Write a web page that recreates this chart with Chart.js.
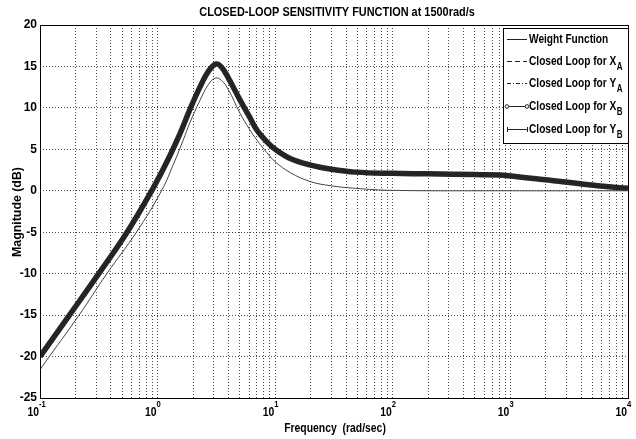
<!DOCTYPE html>
<html>
<head>
<meta charset="utf-8">
<script src="https://cdn.jsdelivr.net/npm/chart.js@4"></script>
<style>
    html, body { margin: 0; padding: 0; background: #fff; }
    #wrap { width: 636px; height: 439px; }
</style>
</head>
<body>
<div id="wrap"><canvas id="chart" width="636" height="439"></canvas></div>
<script>
// Closed-loop sensitivity data
const loopFreq = [0.1, 0.178, 0.316, 0.55, 0.89, 1.2, 1.55, 1.88, 2.29, 2.7, 3.15, 3.5, 4.0, 5.0, 6.0, 7.0, 8.5, 10, 13.4, 20, 30, 48, 100, 200, 500, 800, 1500, 2800, 5500, 10000];
const loopXA = [-20, -15, -10, -5, 0, 3.5, 6.9, 9.8, 12.5, 14.4, 15.3, 14.9, 13.6, 11.0, 9.0, 7.3, 5.9, 5.0, 3.9, 3.1, 2.6, 2.25, 2.1, 2.05, 1.95, 1.9, 1.5, 1.1, 0.6, 0.3];
const loopYA = loopXA.slice();
const loopXB = loopXA.slice();
const loopYB = loopXA.slice();

const weightFreq = [0.1, 0.12, 0.215, 0.37, 0.66, 1.08, 1.4, 1.65, 1.88, 2.29, 2.7, 3.1, 3.5, 4.0, 5.0, 6.0, 7.0, 8.5, 10, 13.4, 20, 30, 48, 100, 1000, 10000];
const weightMag = [-21.6, -20, -15, -10, -5, 0, 3.6, 6.1, 8.2, 10.9, 12.8, 13.6, 13.3, 12.2, 9.4, 7.5, 6.1, 4.6, 3.5, 2.2, 1.1, 0.6, 0.3, 0.05, 0, 0];

const decades = [0.1, 1, 10, 100, 1000, 10000];
const decadeExp = ['-1', '0', '1', '2', '3', '4'];
const yTicks = [20, 15, 10, 5, 0, -5, -10, -15, -20, -25];

const legendNames = [
    ['Weight Function', ''],
    ['Closed Loop for X', 'A'],
    ['Closed Loop for Y', 'A'],
    ['Closed Loop for X', 'B'],
    ['Closed Loop for Y', 'B']
];

const FONT = '"Liberation Sans", Arial, sans-serif';

function pts(xs, ys) {
    return xs.map((x, i) => ({ x: x, y: ys[i] }));
}

// condensed bold text (the original uses a narrow face)
function narrow(ctx, text, x, y, size, sx, align) {
    ctx.save();
    ctx.font = 'bold ' + size + 'px ' + FONT;
    ctx.translate(x, y);
    ctx.scale(sx, 1);
    ctx.textAlign = align;
    ctx.fillText(text, 0, 0);
    const w = ctx.measureText(text).width * sx;
    ctx.restore();
    return w;
}

// draws title, axis labels, tick labels, frame and legend
const decorations = {
    id: 'decorations',
    afterDraw(chart) {
        const ctx = chart.ctx;
        const area = chart.chartArea;
        const xs = chart.scales.x;
        ctx.save();

        // frame
        ctx.strokeStyle = '#000';
        ctx.lineWidth = 1;
        ctx.setLineDash([]);
        ctx.strokeRect(area.left + 0.5, area.top + 0.5, area.right - area.left, area.bottom - area.top);

        ctx.fillStyle = '#000';
        ctx.textBaseline = 'middle';

        // title
        narrow(ctx, 'CLOSED-LOOP SENSITIVITY FUNCTION at 1500rad/s', 337, 12, 13, 0.84, 'center');

        // x axis title
        narrow(ctx, 'Frequency  (rad/sec)', 335, 428, 13, 0.8, 'center');

        // y axis title
        ctx.save();
        ctx.translate(17, 212);
        ctx.rotate(-Math.PI / 2);
        narrow(ctx, 'Magnitude (dB)', 0, 0, 13, 0.95, 'center');
        ctx.restore();

        // x tick labels: 10^n
        decades.forEach((d, i) => {
            const px = xs.getPixelForValue(d);
            narrow(ctx, '10', px - 1, 412, 13, 0.8, 'right');
            narrow(ctx, decadeExp[i], px - 1, 405, 9, 0.85, 'left');
        });

        // legend box
        const lx = 503, ly = 28, lw = area.right - lx, lh = 115;
        ctx.fillStyle = '#fff';
        ctx.fillRect(lx, ly, lw, lh);
        ctx.strokeStyle = '#000';
        ctx.strokeRect(lx + 0.5, ly + 0.5, lw, lh);

        const rows = [39, 61, 83, 106, 129];
        const dashes = [[], [5, 3], [4, 2, 1, 2], [], []];
        rows.forEach((ry, i) => {
            ctx.strokeStyle = '#222';
            ctx.lineWidth = 1;
            ctx.setLineDash(dashes[i]);
            ctx.beginPath();
            ctx.moveTo(507, ry + 0.5);
            ctx.lineTo(527, ry + 0.5);
            ctx.stroke();
            ctx.setLineDash([]);
            if (i === 3) {
                [507, 527].forEach(mx => {
                    ctx.beginPath();
                    ctx.arc(mx, ry + 0.5, 1.8, 0, Math.PI * 2);
                    ctx.fillStyle = '#fff';
                    ctx.fill();
                    ctx.stroke();
                });
            }
            if (i === 4) {
                [507, 527].forEach(mx => {
                    ctx.beginPath();
                    ctx.moveTo(mx + 0.5, ry - 2);
                    ctx.lineTo(mx + 0.5, ry + 3);
                    ctx.stroke();
                });
            }
            ctx.fillStyle = '#000';
            const w = narrow(ctx, legendNames[i][0], 529, ry, 13, 0.78, 'left');
            if (legendNames[i][1]) {
                narrow(ctx, legendNames[i][1], 529 + w + 0.5, ry + 6, 10, 0.8, 'left');
            }
        });

        ctx.restore();
    }
};

const ctx = document.getElementById('chart');
new Chart(ctx, {
    type: 'line',
    data: {
        datasets: [
            {
                label: 'Weight Function',
                data: pts(weightFreq, weightMag),
                borderColor: '#444',
                borderWidth: 1,
                pointRadius: 0,
                tension: 0.4
            },
            {
                label: 'Closed Loop for XA',
                data: pts(loopFreq, loopXA),
                borderColor: '#222',
                borderWidth: 1,
                borderDash: [5, 3],
                pointRadius: 0,
                tension: 0.4
            },
            {
                label: 'Closed Loop for YA',
                data: pts(loopFreq, loopYA),
                borderColor: '#222',
                borderWidth: 1,
                borderDash: [4, 2, 1, 2],
                pointRadius: 0,
                tension: 0.4
            },
            {
                label: 'Closed Loop for XB',
                data: pts(loopFreq, loopXB),
                borderColor: '#262626',
                borderWidth: 5.5,
                pointRadius: 0,
                tension: 0.4
            },
            {
                label: 'Closed Loop for YB',
                data: pts(loopFreq, loopYB),
                borderColor: '#111',
                borderWidth: 1.5,
                pointRadius: 0,
                tension: 0.4
            }
        ]
    },
    options: {
        responsive: false,
        animation: false,
        layout: { padding: { top: 25, right: 8, left: 0, bottom: 0 } },
        plugins: {
            legend: { display: false },
            tooltip: { enabled: false }
        },
        scales: {
            x: {
                type: 'logarithmic',
                min: 0.1,
                max: 10000,
                afterBuildTicks: scale => {
                    const t = [];
                    for (let e = -1; e < 4; e++) {
                        for (let m = 1; m < 10; m++) t.push({ value: m * Math.pow(10, e) });
                    }
                    t.push({ value: 10000 });
                    scale.ticks = t;
                },
                afterFit: scale => { scale.height = 41; },
                ticks: { display: false },
                grid: { color: 'rgba(0,0,0,0.7)', lineWidth: 1, drawTicks: false },
                border: { display: false, dash: [1, 2] }
            },
            y: {
                min: -25,
                max: 20,
                afterBuildTicks: scale => {
                    scale.ticks = yTicks.map(v => ({ value: v }));
                },
                afterFit: scale => { scale.width = 40; },
                ticks: {
                    color: '#000',
                    padding: 3,
                    font: { family: FONT, size: 12, weight: 'bold' }
                },
                grid: { color: 'rgba(0,0,0,0.7)', lineWidth: 1, drawTicks: false },
                border: { display: false, dash: [1, 2] }
            }
        }
    },
    plugins: [decorations]
});
</script>
</body>
</html>
